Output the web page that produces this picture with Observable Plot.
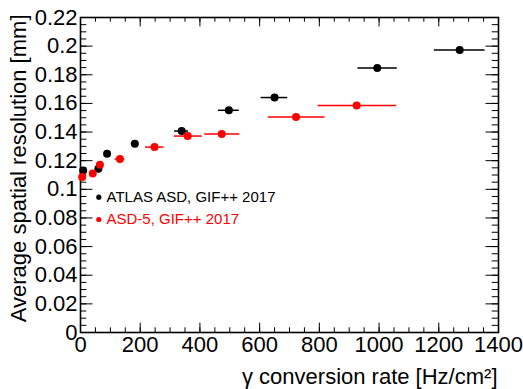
<!DOCTYPE html>
<html><head><meta charset="utf-8">
<script src="https://cdn.jsdelivr.net/npm/d3@7"></script>
<script src="https://cdn.jsdelivr.net/npm/@observablehq/plot@0.6"></script>
<style>body{margin:0;background:#fff}</style>
</head><body><div id="chart"></div>
<script>
// ATLAS ASD, GIF++ 2017
const asdRate   = [9, 60, 89, 182, 339, 497, 650, 994, 1270];
const asdRateLo = [8, 56, 83, 170, 315, 462, 605, 929, 1185];
const asdRateHi = [10, 64, 95, 194, 362, 532, 694, 1061, 1355];
const asdRes    = [0.1132, 0.1144, 0.1249, 0.1319, 0.1407, 0.1552, 0.1641, 0.1848, 0.1973];
// ASD-5, GIF++ 2017
const asd5Rate   = [5.7, 41, 65, 132, 248, 359, 473, 722, 925];
const asd5RateLo = [5, 36, 57, 116, 218, 314, 416, 629, 796];
const asd5RateHi = [6.4, 46, 73, 148, 280, 408, 534, 819, 1059];
const asd5Res    = [0.1086, 0.1111, 0.1172, 0.1211, 0.1295, 0.1372, 0.1386, 0.1505, 0.1585];

const xMajor = [0, 200, 400, 600, 800, 1000, 1200, 1400];
const xMinor = d3.range(0, 1401, 50);
const yMajor = [0, 0.02, 0.04, 0.06, 0.08, 0.1, 0.12, 0.14, 0.16, 0.18, 0.2, 0.22];
const yMinor = d3.range(0, 0.2201, 0.005);
const seriesNames = ["ATLAS ASD, GIF++ 2017", "ASD-5, GIF++ 2017"];
const seriesColors = ["#000000", "#ff0000"];

const asd = asdRate.map((x, i) => ({x, lo: asdRateLo[i], hi: asdRateHi[i], y: asdRes[i]}));
const asd5 = asd5Rate.map((x, i) => ({x, lo: asd5RateLo[i], hi: asd5RateHi[i], y: asd5Res[i]}));

const W = 523, H = 389, mL = 80, mR = 25, mT = 17, mB = 57;
const fw = W - mL - mR, fh = H - mT - mB;

function legendEntry(i, dy) {
  return [
    Plot.dot([seriesNames[i]], {frameAnchor: "top-left", dx: 18.3, dy, r: 2.6, fill: seriesColors[i]}),
    Plot.text([seriesNames[i]], {frameAnchor: "top-left", dx: 26, dy, text: d => d, fill: seriesColors[i],
      fontSize: 15, textAnchor: "start", lineAnchor: "middle"})
  ];
}

const chart = Plot.plot({
  width: W, height: H,
  marginLeft: mL, marginRight: mR, marginTop: mT, marginBottom: mB,
  style: {fontFamily: "'Liberation Sans', Arial, Helvetica, sans-serif", fontSize: "22px", background: "#fff", color: "#000"},
  x: {domain: [0, 1400]},
  y: {domain: [0, 0.22]},
  marks: [
    // inward ticks: bottom / top
    Plot.ruleX(xMinor, {x: d => d, insetTop: fh - 4.7, stroke: "#000", strokeWidth: 1}),
    Plot.ruleX(xMajor, {x: d => d, insetTop: fh - 9.4, stroke: "#000", strokeWidth: 1}),
    Plot.ruleX(xMinor, {x: d => d, insetBottom: fh - 4.7, stroke: "#000", strokeWidth: 1}),
    Plot.ruleX(xMajor, {x: d => d, insetBottom: fh - 9.4, stroke: "#000", strokeWidth: 1}),
    // inward ticks: left / right
    Plot.ruleY(yMinor, {y: d => d, insetRight: fw - 6.3, stroke: "#000", strokeWidth: 1}),
    Plot.ruleY(yMajor, {y: d => d, insetRight: fw - 12.5, stroke: "#000", strokeWidth: 1}),
    Plot.ruleY(yMinor, {y: d => d, insetLeft: fw - 6.3, stroke: "#000", strokeWidth: 1}),
    Plot.ruleY(yMajor, {y: d => d, insetLeft: fw - 12.5, stroke: "#000", strokeWidth: 1}),
    Plot.frame({stroke: "#000", strokeWidth: 1.6}),
    Plot.axisX({ticks: xMajor, tickSize: 0, tickPadding: 4, label: null, tickFormat: d => String(d)}),
    Plot.axisY({ticks: yMajor, tickSize: 0, tickPadding: 3, label: null, tickFormat: d => String(+d.toFixed(3))}),
    // error bars
    Plot.ruleY(asd, {y: "y", x1: "lo", x2: "hi", stroke: seriesColors[0], strokeWidth: 1.5}),
    Plot.ruleY(asd5, {y: "y", x1: "lo", x2: "hi", stroke: seriesColors[1], strokeWidth: 1.5}),
    Plot.dot(asd, {x: "x", y: "y", r: 4, fill: seriesColors[0]}),
    Plot.dot(asd5, {x: "x", y: "y", r: 4, fill: seriesColors[1]}),
    // legend
    ...legendEntry(0, 179.7),
    ...legendEntry(1, 202),
    // axis titles
    Plot.text(["Average spatial resolution [mm]"], {frameAnchor: "top-left", text: d => d, rotate: -90,
      dx: -55, dy: -3, textAnchor: "end", lineAnchor: "bottom", fontSize: 22}),
    Plot.text(["\u03b3 conversion rate [Hz/cm\u00b2]"], {frameAnchor: "bottom-right", text: d => d,
      dx: -1, dy: 51, textAnchor: "end", lineAnchor: "bottom", fontSize: 22})
  ]
});
document.getElementById("chart").append(chart);
</script>
</body></html>
